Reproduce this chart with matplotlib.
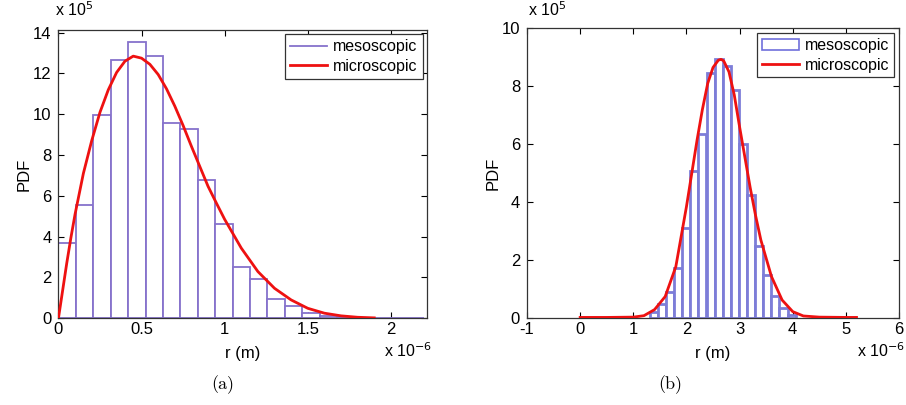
import matplotlib
matplotlib.use("Agg")
import matplotlib.pyplot as plt
import numpy as np
from matplotlib.lines import Line2D
from matplotlib.patches import Patch

plt.rcParams['font.family'] = ['Liberation Sans', 'DejaVu Sans']

# ---------------- data: panel (a) ----------------
meso_a_r = [0.0524, 0.1571, 0.2619, 0.3667, 0.4714, 0.5762, 0.6810, 0.7857,
            0.8905, 0.9952, 1.1000, 1.2048, 1.3095, 1.4143, 1.5190, 1.6238,
            1.7286, 1.8333, 1.9381, 2.0429, 2.1476]
meso_a_pdf = [3.7, 5.55, 9.95, 12.65, 13.55, 12.85, 9.55, 9.3, 6.8, 4.63,
              2.53, 1.95, 0.96, 0.6, 0.28, 0.1, 0.04, 0.02, 0.01, 0.005, 0.01]
micro_a_r = [0.0, 0.025, 0.05, 0.075, 0.1, 0.15, 0.2, 0.25, 0.3, 0.35, 0.4,
             0.45, 0.5, 0.55, 0.6, 0.65, 0.7, 0.75, 0.8, 0.85, 0.9, 0.95, 1.0,
             1.1, 1.2, 1.3, 1.4, 1.5, 1.6, 1.7, 1.8, 1.9]
micro_a_pdf = [0.0, 1.35, 2.7, 3.95, 5.1, 7.1, 8.7, 10.1, 11.2, 12.05, 12.6,
               12.85, 12.75, 12.45, 11.95, 11.25, 10.4, 9.45, 8.43, 7.45, 6.47,
               5.65, 4.85, 3.44, 2.29, 1.47, 0.9, 0.49, 0.25, 0.12, 0.05, 0.02]

# ---------------- data: panel (b) ----------------
meso_b_r = [1.386, 1.539, 1.691, 1.844, 1.996, 2.149, 2.301, 2.454, 2.606,
            2.759, 2.911, 3.064, 3.216, 3.369, 3.521, 3.674, 3.826, 3.979]
meso_b_pdf = [0.21, 0.5, 0.92, 1.75, 3.13, 5.08, 6.36, 8.47, 8.94, 8.71,
              7.87, 6.0, 4.25, 2.51, 1.48, 0.77, 0.34, 0.1]
micro_b_r = [0.0, 0.5, 1.0, 1.2, 1.4, 1.6, 1.8, 2.0, 2.1, 2.2, 2.3, 2.4, 2.5,
             2.6, 2.65, 2.7, 2.8, 2.9, 3.0, 3.1, 3.2, 3.3, 3.4, 3.6, 3.8,
             4.0, 4.2, 4.5, 5.0, 5.2]
micro_b_pdf = [0.03, 0.03, 0.04, 0.09, 0.3, 0.75, 1.78, 3.85, 5.0, 6.15, 7.2,
               8.1, 8.65, 8.9, 8.93, 8.88, 8.5, 7.7, 6.6, 5.55, 4.5, 3.55,
               2.7, 1.44, 0.63, 0.23, 0.08, 0.04, 0.03, 0.03]

meso_label = "mesoscopic"
micro_label = "microscopic"
xlabel = "r (m)"
ylabel = "PDF"

fig = plt.figure(figsize=(9.06, 4.05), dpi=100)

tick_font = 12
label_font = 12
legend_font = 11.5


def style_axes(ax):
    ax.tick_params(direction='in', top=True, right=True, length=4,
                   labelsize=tick_font, width=0.8, pad=3)
    ax.tick_params(axis='y', pad=5)
    for s in ax.spines.values():
        s.set_linewidth(0.9)
        s.set_color('#333333')


# ---------------- panel (a) ----------------
axa = fig.add_axes([0.0645, 0.2141, 0.4073, 0.7128])
wa = np.diff(meso_a_r).mean()
axa.bar(meso_a_r, meso_a_pdf, width=wa, facecolor='white',
        edgecolor='#8672cc', linewidth=1.3, zorder=2)
axa.plot(micro_a_r, micro_a_pdf, color='#ee1111', linewidth=2.0, zorder=3)
axa.set_xlim(0, 2.22)
axa.set_ylim(0, 14.15)
axa.set_xticks([0, 0.5, 1, 1.5, 2])
axa.set_xticklabels(['0', '0.5', '1', '1.5', '2'])
axa.set_yticks(range(0, 15, 2))
style_axes(axa)
axa.set_xlabel(xlabel, fontsize=label_font, labelpad=6)
axa.set_ylabel(ylabel, fontsize=label_font, labelpad=1)
leg_a = axa.legend(handles=[Line2D([], [], color='#8672cc', lw=1.3),
                            Line2D([], [], color='#ee1111', lw=2.0)],
                   labels=[meso_label, micro_label], loc='upper right',
                   fontsize=legend_font, fancybox=False, edgecolor='#333333',
                   framealpha=1, handlelength=2.3, borderaxespad=0.3,
                   borderpad=0.3, labelspacing=0.3, handletextpad=0.4)
leg_a.get_frame().set_linewidth(0.9)
fig.text(0.0607, 0.952, r'x 10$^{5}$', fontsize=11.5, ha='left', va='bottom')
fig.text(0.424, 0.11, r'x 10$^{-6}$', fontsize=11.5, ha='left', va='bottom')
fig.text(0.246, 0.038, '(a)', fontsize=13, fontname='cmr10', ha='center')

# ---------------- panel (b) ----------------
axb = fig.add_axes([0.5817, 0.2141, 0.4106, 0.7160])
wb = np.diff(meso_b_r).mean()
axb.bar(meso_b_r, meso_b_pdf, width=wb, facecolor='white',
        edgecolor='#7d7dd8', linewidth=2.0, zorder=2)
axb.plot(micro_b_r, micro_b_pdf, color='#ee1111', linewidth=2.0, zorder=3)
axb.set_xlim(-1, 6)
axb.set_ylim(0, 10)
axb.set_xticks(range(-1, 7))
axb.set_xticklabels(['-1', '0', '1', '2', '3', '4', '5', '6'])
axb.set_yticks(range(0, 11, 2))
style_axes(axb)
axb.set_xlabel(xlabel, fontsize=label_font, labelpad=6)
axb.set_ylabel(ylabel, fontsize=label_font, labelpad=1)
leg_b = axb.legend(handles=[Patch(facecolor='white', edgecolor='#6f6fdc', lw=1.2),
                            Line2D([], [], color='#ee1111', lw=2.0)],
                   labels=[meso_label, micro_label], loc='upper right',
                   fontsize=legend_font, fancybox=False, edgecolor='#333333',
                   framealpha=1, handlelength=2.3, borderaxespad=0.3,
                   borderpad=0.3, labelspacing=0.3, handletextpad=0.4)
leg_b.get_frame().set_linewidth(0.9)
fig.text(0.583, 0.952, r'x 10$^{5}$', fontsize=11.5, ha='left', va='bottom')
fig.text(0.946, 0.11, r'x 10$^{-6}$', fontsize=11.5, ha='left', va='bottom')
fig.text(0.740, 0.038, '(b)', fontsize=13, fontname='cmr10', ha='center')

fig.savefig('out.png', dpi=100)
